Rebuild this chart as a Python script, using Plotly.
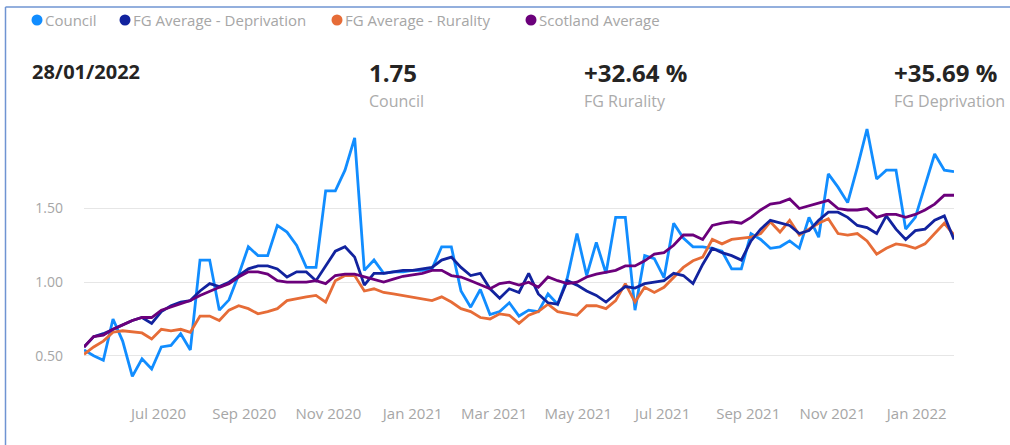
import pandas as pd
import plotly.graph_objects as go

# ---- data (weekly, Fridays) ----
dates = pd.date_range("2020-05-08", "2022-01-28", freq="7D")

council = [0.54, 0.50, 0.47, 0.75, 0.60, 0.36, 0.48, 0.41, 0.56, 0.57,
           0.65, 0.54, 1.15, 1.15, 0.81, 0.88, 1.05, 1.24, 1.18, 1.18,
           1.385, 1.34, 1.25, 1.10, 1.10, 1.62, 1.62, 1.76, 1.98, 1.08,
           1.15, 1.06, 1.07, 1.07, 1.08, 1.08, 1.09, 1.24, 1.24, 0.94,
           0.83, 0.95, 0.78, 0.80, 0.86, 0.77, 0.81, 0.80, 0.92, 0.85,
           1.03, 1.33, 1.045, 1.27, 1.06, 1.44, 1.44, 0.81, 1.18, 1.16,
           1.03, 1.40, 1.30, 1.24, 1.24, 1.23, 1.21, 1.09, 1.09, 1.33,
           1.29, 1.23, 1.24, 1.28, 1.23, 1.44, 1.305, 1.735, 1.645, 1.54,
           1.78, 2.04, 1.70, 1.76, 1.76, 1.36, 1.44, 1.66, 1.87, 1.76,
           1.75]

fg_deprivation = [0.56, 0.63, 0.65, 0.68, 0.71, 0.74, 0.76, 0.72, 0.80, 0.84,
                  0.865, 0.875, 0.94, 0.99, 0.97, 1.00, 1.045, 1.09, 1.11, 1.11,
                  1.09, 1.035, 1.07, 1.07, 1.01, 1.11, 1.21, 1.24, 1.17, 0.98,
                  1.06, 1.06, 1.07, 1.08, 1.08, 1.09, 1.10, 1.15, 1.17, 1.10,
                  1.045, 1.06, 0.955, 0.89, 0.955, 0.93, 1.06, 0.92, 0.86, 0.85,
                  1.01, 0.98, 0.94, 0.91, 0.865, 0.92, 0.97, 0.96, 0.99, 1.00,
                  1.01, 1.06, 1.045, 0.99, 1.12, 1.23, 1.20, 1.18, 1.15, 1.28,
                  1.36, 1.42, 1.40, 1.385, 1.33, 1.35, 1.42, 1.475, 1.475, 1.44,
                  1.385, 1.37, 1.33, 1.45, 1.36, 1.29, 1.35, 1.36, 1.42, 1.45,
                  1.29]

fg_rurality = [0.51, 0.56, 0.60, 0.66, 0.67, 0.66, 0.655, 0.615, 0.68, 0.67,
               0.68, 0.66, 0.77, 0.77, 0.74, 0.81, 0.84, 0.82, 0.785, 0.80,
               0.82, 0.875, 0.89, 0.90, 0.91, 0.865, 1.01, 1.045, 1.045, 0.94,
               0.955, 0.93, 0.92, 0.91, 0.90, 0.89, 0.875, 0.90, 0.865, 0.82,
               0.80, 0.76, 0.75, 0.785, 0.775, 0.72, 0.775, 0.80, 0.85, 0.80,
               0.785, 0.775, 0.84, 0.84, 0.82, 0.875, 0.99, 0.865, 0.965, 0.93,
               0.965, 1.035, 1.10, 1.145, 1.17, 1.29, 1.26, 1.29, 1.30, 1.305,
               1.33, 1.41, 1.34, 1.42, 1.32, 1.36, 1.40, 1.43, 1.33, 1.32,
               1.33, 1.28, 1.19, 1.23, 1.26, 1.25, 1.23, 1.26, 1.33, 1.40,
               1.32]

scotland = [0.56, 0.63, 0.64, 0.68, 0.71, 0.74, 0.76, 0.76, 0.81, 0.83,
            0.85, 0.875, 0.91, 0.94, 0.965, 0.99, 1.035, 1.07, 1.07, 1.055,
            1.01, 1.00, 1.00, 1.00, 1.01, 0.99, 1.045, 1.055, 1.055, 1.035,
            1.02, 1.00, 1.02, 1.04, 1.05, 1.06, 1.08, 1.08, 1.045, 1.035,
            1.01, 0.98, 0.955, 0.99, 1.00, 0.98, 1.00, 0.965, 1.035, 1.01,
            0.99, 1.00, 1.035, 1.055, 1.07, 1.08, 1.11, 1.11, 1.145, 1.19,
            1.20, 1.25, 1.32, 1.32, 1.29, 1.385, 1.40, 1.41, 1.40, 1.44,
            1.49, 1.53, 1.54, 1.565, 1.50, 1.52, 1.54, 1.555, 1.50, 1.49,
            1.49, 1.50, 1.44, 1.46, 1.46, 1.44, 1.46, 1.49, 1.53, 1.59,
            1.59]

series_names = ["Council", "FG Average - Deprivation", "FG Average - Rurality", "Scotland Average"]
series_values = [council, fg_deprivation, fg_rurality, scotland]
colors = ["#118DFF", "#12239E", "#E66C37", "#6B007B"]

header_date = "28/01/2022"
kpi_values = ["1.75", "+32.64 %", "+35.69 %"]
kpi_labels = ["Council", "FG Rurality", "FG Deprivation"]

y_ticks = [0.5, 1.0, 1.5]

# ---- layout geometry ----
W, H = 1010, 445
L, R, T, B = 84, 56, 120, 45
PW, PH = W - L - R, H - T - B


def px(x):
    return (x - L) / PW


def py(y):
    return (H - B - y) / PH


FONT = "Segoe UI, Open Sans, sans-serif"
GREY = "#a6a6a6"

fig = go.Figure()

# draw order: council first, then rurality, deprivation, scotland
for k in [0, 2, 1, 3]:
    fig.add_trace(go.Scatter(
        x=dates, y=series_values[k], mode="lines", name=series_names[k],
        line=dict(color=colors[k], width=2.8), showlegend=False))

annotations = [
    dict(text=header_date, xref="paper", yref="paper", x=px(30), y=py(72),
         xanchor="left", yanchor="middle",
         font=dict(size=20, color="#252423", family=FONT, weight="bold"), showarrow=False),
]
shapes = []

# header KPI cards
kpi_x = [368, 583, 893]
for val, lab, xx in zip(kpi_values, kpi_labels, kpi_x):
    annotations.append(dict(text=val, xref="paper", yref="paper", x=px(xx - 1), y=py(73),
                            xanchor="left", yanchor="middle",
                            font=dict(size=24, color="#252423", family=FONT, weight="bold"),
                            showarrow=False))
    annotations.append(dict(text=lab, xref="paper", yref="paper", x=px(xx - 1), y=py(101),
                            xanchor="left", yanchor="middle",
                            font=dict(size=16, color="#ababab", family=FONT), showarrow=False))

# legend (circle marker + label)
legend_marker_x = [37, 125, 337, 531]
for name, col, mx in zip(series_names, colors, legend_marker_x):
    shapes.append(dict(type="circle", xref="paper", yref="paper",
                       xsizemode="pixel", ysizemode="pixel",
                       xanchor=px(mx), yanchor=py(20), x0=-5.5, x1=5.5, y0=-5.5, y1=5.5,
                       fillcolor=col, line=dict(width=0)))
    annotations.append(dict(text=name, xref="paper", yref="paper", x=px(mx + 6), y=py(20),
                            xanchor="left", yanchor="middle",
                            font=dict(size=15, color=GREY, family=FONT), showarrow=False))

# screenshot frame
shapes += [
    dict(type="line", xref="paper", yref="paper", x0=px(5.5), x1=px(1012), y0=py(7), y1=py(7),
         line=dict(color="#6f94d2", width=1.5)),
    dict(type="line", xref="paper", yref="paper", x0=px(5.5), x1=px(5.5), y0=py(7), y1=py(447),
         line=dict(color="#6f94d2", width=1.5)),
]

fig.update_layout(
    width=W, height=H,
    margin=dict(l=L, r=R, t=T, b=B),
    paper_bgcolor="white", plot_bgcolor="white",
    font=dict(family=FONT, color=GREY, size=14),
    showlegend=False,
    annotations=annotations,
    shapes=shapes,
)

fig.update_xaxes(
    range=[dates[0], dates[-1]], showgrid=False, zeroline=False, showline=False,
    tickformat="%b %Y", dtick="M2", tick0="2020-07-01", ticks="",
    ticklabelstandoff=3,
    tickfont=dict(size=15, color=GREY, family=FONT),
)
fig.update_yaxes(
    range=[0.2, 0.2 + PH / 147.3], tickvals=y_ticks, ticktext=[f"{v:.2f}" for v in y_ticks],
    showgrid=True, gridcolor="#e6e6e6", gridwidth=1, zeroline=False, showline=False,
    ticks="", ticklabelstandoff=20,
    tickfont=dict(size=14, color=GREY, family=FONT),
)

fig.write_html("out.html")
